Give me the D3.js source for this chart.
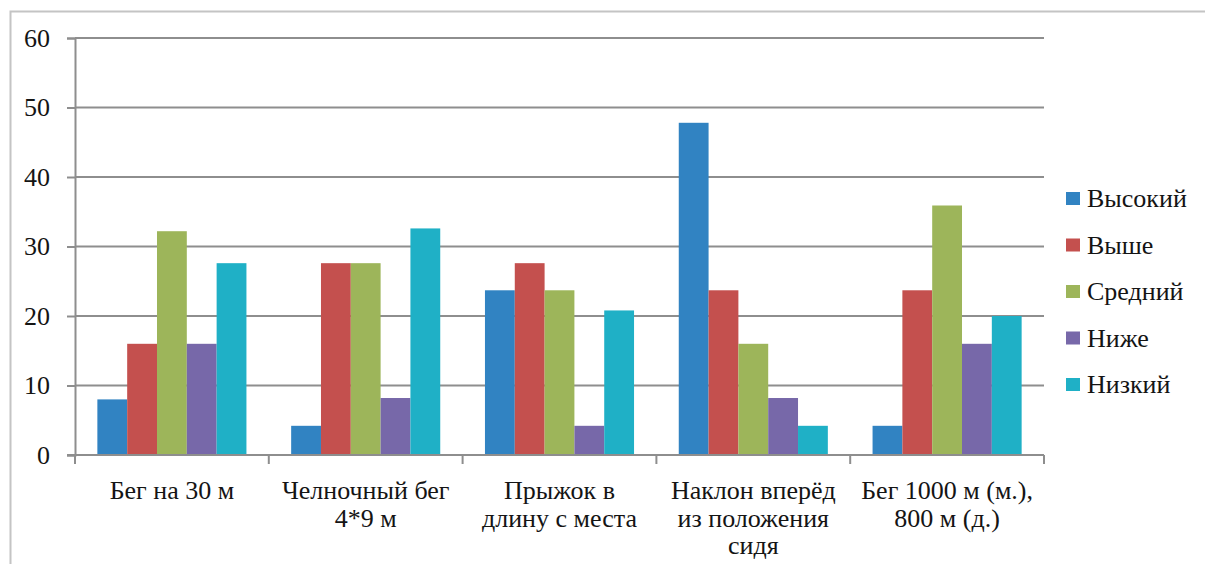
<!DOCTYPE html>
<html>
<head>
<meta charset="utf-8">
<script src="https://cdn.jsdelivr.net/npm/d3@7"></script>
</head>
<body style="margin:0">
<svg id="chart" width="1205" height="564"></svg>
<script>
// Test categories (line breaks mark the wrapped label lines)
const categories = [
  "Бег на 30 м",
  "Челночный бег\n4*9 м",
  "Прыжок в\nдлину с места",
  "Наклон вперёд\nиз положения\nсидя",
  "Бег 1000 м (м.),\n800 м (д.)"
];

// Result levels (legend order)
const levels = ["Высокий", "Выше", "Средний", "Ниже", "Низкий"];

// Share of pupils per level, %, one array per level across categories
const vysokiy = [8.0, 4.2, 23.7, 47.8, 4.2];
const vyshe   = [16.0, 27.6, 27.6, 23.7, 23.7];
const sredniy = [32.2, 27.6, 23.7, 16.0, 35.9];
const nizhe   = [16.0, 8.2, 4.2, 8.2, 16.0];
const nizkiy  = [27.6, 32.6, 20.8, 4.2, 20.0];

const yTicks = [0, 10, 20, 30, 40, 50, 60];

const colors = ["#3183c2", "#c4504e", "#9db55a", "#7768a9", "#1fb0c6"];

const FONT = "'Times New Roman', 'Liberation Serif', monospace";
const FONT_SIZE = 26;
const TEXT_COLOR = "#141414";
const LINE_COLOR = "#8e8e8e";

const seriesValues = [vysokiy, vyshe, sredniy, nizhe, nizkiy];
const rows = categories.map((c, i) => ({
  category: c,
  values: levels.map((l, j) => ({ level: l, value: seriesValues[j][i] }))
}));

const svg = d3.select("#chart");

// Outer frame (top and left edges)
svg.append("path")
  .attr("d", "M10.5,564 L10.5,11.5 L1205,11.5")
  .attr("fill", "none")
  .attr("stroke", "#c4c4c4")
  .attr("stroke-width", 2);

const plot = { left: 75, right: 1044, top: 38, bottom: 455 };

const x = d3.scaleBand()
  .domain(categories)
  .range([plot.left, plot.right])
  .paddingInner(0)
  .paddingOuter(0);

// Five bars plus a gap of 1.5 bar widths per category
const barW = x.bandwidth() / 6.5;
const xInner = d3.scaleBand()
  .domain(levels)
  .range([barW * 0.75, x.bandwidth() - barW * 0.75])
  .padding(0);

const y = d3.scaleLinear()
  .domain([0, 60])
  .range([plot.bottom, plot.top]);

// Horizontal gridlines
svg.append("g")
  .selectAll("line")
  .data(yTicks.filter(t => t > 0))
  .join("line")
  .attr("x1", plot.left)
  .attr("x2", plot.right)
  .attr("y1", d => y(d))
  .attr("y2", d => y(d))
  .attr("stroke", LINE_COLOR)
  .attr("stroke-width", 2);

// Bars
const groups = svg.append("g")
  .selectAll("g")
  .data(rows)
  .join("g")
  .attr("transform", d => `translate(${x(d.category)},0)`);

groups.selectAll("rect")
  .data(d => d.values)
  .join("rect")
  .attr("x", d => xInner(d.level))
  .attr("width", xInner.bandwidth())
  .attr("y", d => y(d.value))
  .attr("height", d => y(0) - y(d.value))
  .attr("fill", (d, i) => colors[i]);

// Y axis
const yAxis = d3.axisLeft(y)
  .tickValues(yTicks)
  .tickSize(8)
  .tickPadding(17)
  .tickFormat(d3.format("d"));

const gy = svg.append("g")
  .attr("transform", `translate(${plot.left},0)`)
  .call(yAxis)
  .attr("font-family", FONT)
  .attr("font-size", FONT_SIZE);
gy.select(".domain").attr("stroke", LINE_COLOR).attr("stroke-width", 2);
gy.selectAll(".tick line").attr("stroke", LINE_COLOR).attr("stroke-width", 2);
gy.selectAll(".tick text")
  .style("font-family", FONT)
  .attr("fill", TEXT_COLOR);

// X axis with category separators
const gx = svg.append("g")
  .attr("transform", `translate(0,${plot.bottom})`);
gx.append("line")
  .attr("x1", plot.left - 8)
  .attr("x2", plot.right)
  .attr("y1", 0).attr("y2", 0)
  .attr("stroke", LINE_COLOR)
  .attr("stroke-width", 2);
const sepX = categories.map(c => x(c)).concat([plot.right]);
gx.selectAll("line.sep")
  .data(sepX)
  .join("line")
  .attr("class", "sep")
  .attr("x1", d => d).attr("x2", d => d)
  .attr("y1", 0).attr("y2", 9)
  .attr("stroke", LINE_COLOR)
  .attr("stroke-width", 2);

// Category labels
const labels = gx.selectAll("text.cat")
  .data(categories)
  .join("text")
  .attr("class", "cat")
  .attr("text-anchor", "middle")
  .style("font-family", FONT)
  .attr("font-size", FONT_SIZE)
  .attr("fill", TEXT_COLOR)
  .attr("x", d => x(d) + x.bandwidth() / 2)
  .attr("y", 44);
labels.selectAll("tspan")
  .data(d => d.split("\n"))
  .join("tspan")
  .attr("x", function () { return d3.select(this.parentNode).attr("x"); })
  .attr("dy", (d, i) => i === 0 ? 0 : 27.5)
  .text(d => d);

// Legend
const legend = svg.append("g")
  .selectAll("g")
  .data(levels)
  .join("g")
  .attr("transform", (d, i) => `translate(1066,${207 + i * 46.5})`);
legend.append("rect")
  .attr("x", 0).attr("y", -15)
  .attr("width", 14).attr("height", 13)
  .attr("fill", (d, i) => colors[i]);
legend.append("text")
  .attr("x", 21)
  .attr("y", 0)
  .style("font-family", FONT)
  .attr("font-size", FONT_SIZE)
  .attr("fill", TEXT_COLOR)
  .text(d => d);
</script>
</body>
</html>
